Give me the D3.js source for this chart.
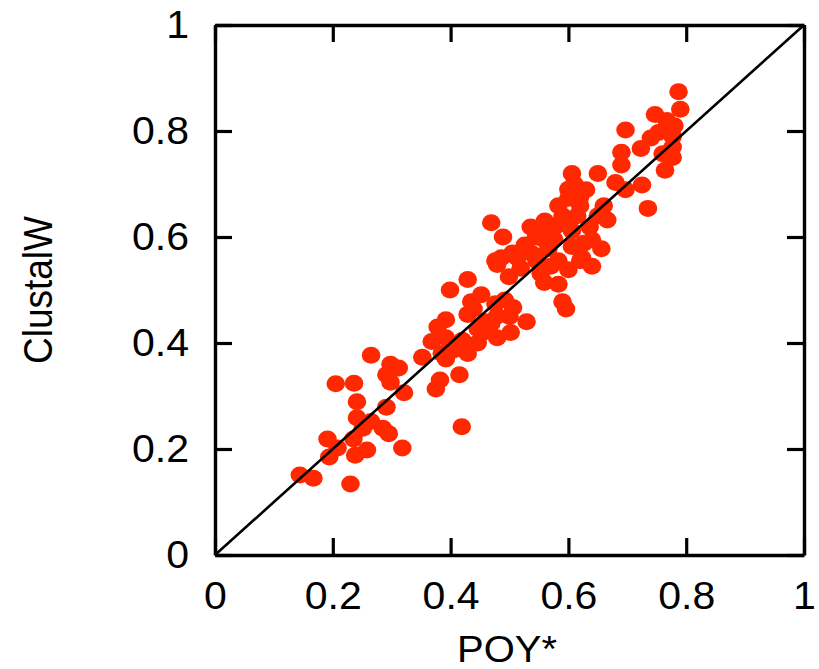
<!DOCTYPE html>
<html lang="en">
<head>
<meta charset="utf-8" />
<title>POY* vs ClustalW</title>
<script src="https://cdn.jsdelivr.net/npm/d3@7"></script>
<style>
  body { margin: 0; background: white; }
  text { font-family: "Liberation Sans", Arial, Helvetica, sans-serif; fill: black; }
</style>
</head>
<body>
<div id="chart"></div>
<script>
// data: POY* score (x) and ClustalW score (y)
var poy = [0.787,0.790,0.747,0.767,0.780,0.697,0.740,0.723,0.777,0.777,0.764,0.690,0.690,0.650,0.606,0.610,0.680,0.697,0.725,0.735,
  0.630,0.600,0.583,0.620,0.660,0.666,0.469,0.489,0.536,0.560,0.606,0.636,0.640,0.656,0.606,0.526,0.566,0.486,0.479,0.513,
  0.546,0.583,0.620,0.640,0.600,0.499,0.559,0.583,0.553,0.429,0.399,0.435,0.452,0.590,0.596,0.506,0.492,0.476,0.429,0.439,
  0.529,0.392,0.378,0.368,0.392,0.469,0.446,0.479,0.502,0.446,0.422,0.405,0.385,0.392,0.429,0.352,0.265,0.298,0.312,0.291,
  0.415,0.382,0.375,0.321,0.298,0.205,0.236,0.241,0.291,0.241,0.265,0.251,0.285,0.295,0.419,0.191,0.235,0.208,0.194,0.238,
  0.258,0.318,0.144,0.167,0.230,0.579,0.559,0.576,0.626,0.623,0.476,0.519,0.539,0.560,0.593,0.620,0.459,0.412,0.479,0.767,
  0.753,0.777,0.760,0.545,0.505,0.530,0.590,0.615,0.455,0.500,0.420,0.650,0.600,0.570];
var clustalw = [0.874,0.841,0.831,0.820,0.810,0.802,0.787,0.767,0.790,0.750,0.726,0.760,0.736,0.720,0.720,0.700,0.703,0.689,0.698,0.654,
  0.689,0.673,0.659,0.659,0.659,0.632,0.627,0.600,0.619,0.609,0.612,0.619,0.595,0.578,0.582,0.585,0.578,0.561,0.548,0.561,
  0.555,0.555,0.555,0.545,0.538,0.525,0.514,0.511,0.531,0.520,0.500,0.478,0.491,0.478,0.464,0.467,0.481,0.474,0.454,0.464,
  0.440,0.444,0.430,0.403,0.410,0.437,0.427,0.410,0.420,0.400,0.393,0.387,0.380,0.370,0.380,0.373,0.377,0.360,0.353,0.340,
  0.340,0.330,0.313,0.306,0.326,0.323,0.324,0.289,0.279,0.259,0.252,0.239,0.239,0.229,0.242,0.219,0.219,0.202,0.185,0.188,
  0.198,0.202,0.151,0.145,0.134,0.621,0.595,0.595,0.588,0.561,0.555,0.541,0.568,0.630,0.630,0.676,0.440,0.397,0.451,0.804,
  0.797,0.770,0.757,0.600,0.570,0.575,0.640,0.640,0.420,0.450,0.405,0.640,0.690,0.545];
var tickValues = [0, 0.2, 0.4, 0.6, 0.8, 1];
var tickLabels = ["0", "0.2", "0.4", "0.6", "0.8", "1"];

var margin = {top: 25, right: 15, bottom: 114, left: 215},
    width = 819 - margin.left - margin.right,
    height = 669 - margin.top - margin.bottom;

// the original picture is a little wider than tall, text included
var stretch = 1.08;

var svg = d3.select("#chart")
  .append("svg")
    .attr("width", 819)
    .attr("height", 669);

var g = svg.append("g")
    .attr("transform", "translate(" + margin.left + "," + margin.top + ")");

var x = d3.scaleLinear().domain([0, 1]).range([0, width]);
var y = d3.scaleLinear().domain([0, 1]).range([height, 0]);

var fmt = function(d) { return tickLabels[tickValues.indexOf(d)]; };

// dots first so the diagonal sits on top
var data = poy.map(function(v, i) { return {x: v, y: clustalw[i]}; });
g.append("g")
  .selectAll("ellipse")
  .data(data)
  .enter()
  .append("ellipse")
    .attr("cx", function(d) { return x(d.x); })
    .attr("cy", function(d) { return y(d.y); })
    .attr("rx", 9.3)
    .attr("ry", 8.5)
    .style("fill", "#ff2800");

// y = x reference line
g.append("line")
  .attr("x1", x(0)).attr("y1", y(0))
  .attr("x2", x(1)).attr("y2", y(1))
  .attr("stroke", "black")
  .attr("stroke-width", 2.6);

// axes with inward ticks on all four sides
var tickLen = 17;
var axBottom = g.append("g")
  .attr("transform", "translate(0," + height + ")")
  .call(d3.axisBottom(x).tickValues(tickValues).tickFormat(fmt).tickSizeInner(-tickLen).tickSizeOuter(0).tickPadding(27));
var axLeft = g.append("g")
  .call(d3.axisLeft(y).tickValues(tickValues).tickFormat(fmt).tickSizeInner(-tickLen).tickSizeOuter(0).tickPadding(24));
var axTop = g.append("g")
  .call(d3.axisTop(x).tickValues(tickValues).tickFormat("").tickSizeInner(-tickLen).tickSizeOuter(0));
var axRight = g.append("g")
  .attr("transform", "translate(" + width + ",0)")
  .call(d3.axisRight(y).tickValues(tickValues).tickFormat("").tickSizeInner(-tickLen).tickSizeOuter(0));

[axBottom, axLeft, axTop, axRight].forEach(function(a) {
  a.selectAll("path").attr("stroke-width", 3.4).attr("stroke", "black");
  a.selectAll("line").attr("stroke-width", 3.2).attr("stroke", "black");
  a.selectAll("text")
    .style("font-size", "38px")
    .style("font-family", "'Liberation Sans', Arial, sans-serif")
    .attr("fill", "black")
    .attr("transform", "scale(" + stretch + ",1)");
});

// axis titles
svg.append("text")
  .attr("transform", "translate(507,662) scale(" + stretch + ",1)")
  .style("text-anchor", "middle")
  .style("font-size", "37px")
  .text("POY*");

svg.append("text")
  .attr("transform", "translate(52,290) rotate(-90) scale(1," + stretch + ")")
  .style("text-anchor", "middle")
  .style("font-size", "37px")
  .text("ClustalW");
</script>
</body>
</html>
